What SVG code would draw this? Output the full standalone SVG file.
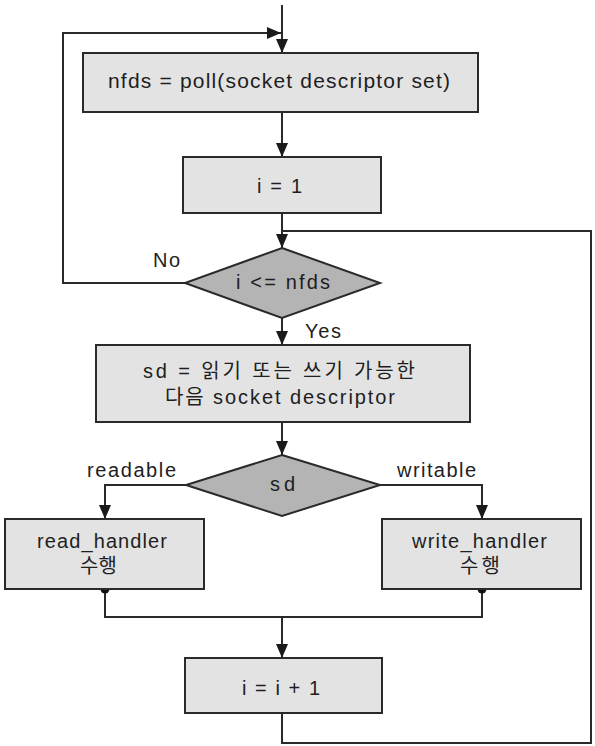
<svg xmlns="http://www.w3.org/2000/svg" width="595" height="746" viewBox="0 0 595 746">
<defs>
<marker id="arr" markerUnits="userSpaceOnUse" markerWidth="14" markerHeight="12" viewBox="0 0 14 12" refX="14" refY="6" orient="auto">
<path d="M0,0 L14,6 L0,12 Z" fill="#1a1a1a"/>
</marker>
</defs>
<style>
.box{fill:#e3e3e3;stroke:#2a2a2a;stroke-width:2}
.dia{fill:#b4b4b4;stroke:#2a2a2a;stroke-width:2}
.ln{fill:none;stroke:#2a2a2a;stroke-width:2}
text{font-family:"Liberation Sans","Noto Sans CJK KR",sans-serif;font-size:20px;fill:#1e1e1e}
.big{font-size:21px}
</style>
<rect width="595" height="746" fill="#ffffff"/>
<g id="connectors">
<path class="ln" d="M282,5 V53" marker-end="url(#arr)"/>
<path class="ln" d="M185,283 H63 V33 H281" marker-end="url(#arr)"/>
<path class="ln" d="M282,112 V157" marker-end="url(#arr)"/>
<path class="ln" d="M282,213 V248" marker-end="url(#arr)"/>
<path class="ln" d="M282,713 V743 H591 V231 H282"/>
<path class="ln" d="M282,318 V345" marker-end="url(#arr)"/>
<path class="ln" d="M282,422 V455" marker-end="url(#arr)"/>
<path class="ln" d="M186,485 H105 V519" marker-end="url(#arr)"/>
<path class="ln" d="M380,485 H482 V519" marker-end="url(#arr)"/>
<path class="ln" d="M105,589 V617 H482 V589"/>
<path class="ln" d="M282,617 V658" marker-end="url(#arr)"/>
<circle cx="105" cy="589" r="4.5" fill="#111"/>
<circle cx="482" cy="589" r="4.5" fill="#111"/>
<text x="153" y="267" textLength="27">No</text>
<text x="305" y="338" textLength="36">Yes</text>
<text x="87" y="477" textLength="89">readable</text>
<text x="397" y="477" textLength="79">writable</text>
</g>
<g id="poll">
<rect class="box" x="83" y="53" width="395" height="59"/>
<text class="big" x="108" y="88" textLength="342">nfds = poll(socket descriptor set)</text>
</g>
<g id="init">
<rect class="box" x="183" y="157" width="198" height="56"/>
<text x="257" y="193" textLength="45">i = 1</text>
</g>
<g id="cond">
<polygon class="dia" points="282,248 380,283 282,318 185,283"/>
<text x="236" y="289" textLength="94">i &lt;= nfds</text>
</g>
<g id="select">
<rect class="box" x="96" y="345" width="374" height="77"/>
<text x="143" y="378" textLength="272">sd = 읽기 또는 쓰기 가능한</text>
<text x="165" y="404" textLength="230">다음 socket descriptor</text>
</g>
<g id="sd">
<polygon class="dia" points="282,455 380,485 282,516 186,485"/>
<text x="270" y="491" textLength="25">sd</text>
</g>
<g id="read">
<rect class="box" x="5" y="519" width="199" height="70"/>
<text x="37" y="548" textLength="130">read_handler</text>
<text x="80" y="573" textLength="37">수행</text>
</g>
<g id="write">
<rect class="box" x="382" y="519" width="199" height="70"/>
<text x="412" y="548" textLength="135">write_handler</text>
<text x="460" y="573" textLength="40">수행</text>
</g>
<g id="incr">
<rect class="box" x="185" y="658" width="197" height="55"/>
<text x="242" y="695" textLength="78">i = i + 1</text>
</g>
</svg>
